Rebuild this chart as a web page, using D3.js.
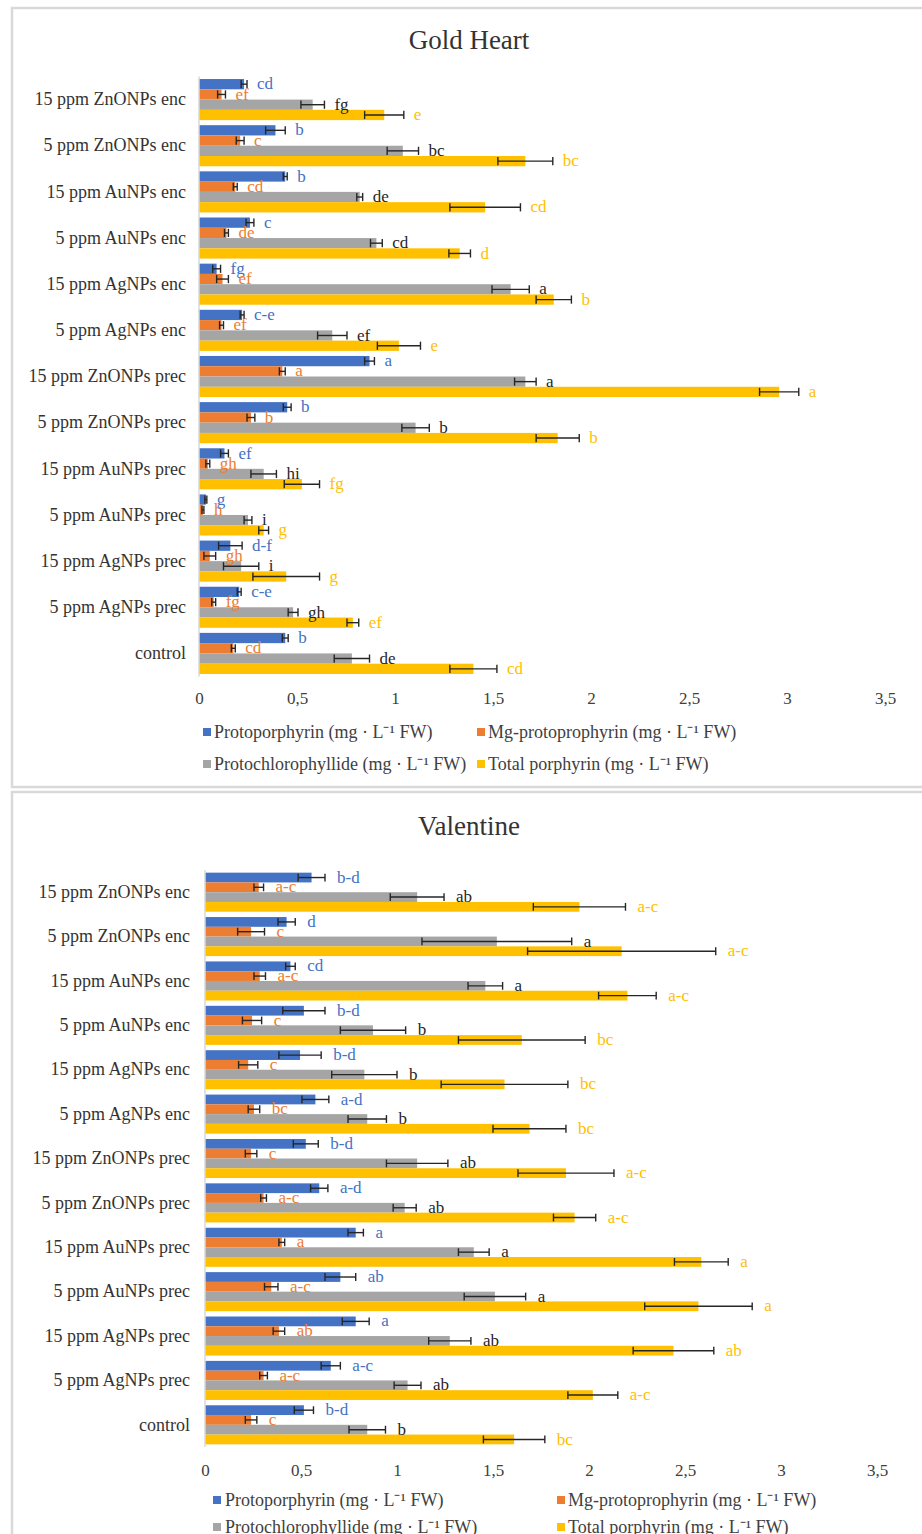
<!DOCTYPE html>
<html>
<head>
<meta charset="utf-8">
<script src="https://cdn.jsdelivr.net/npm/d3@7"></script>
<style>
  body { margin: 0; background: #fff; }
  text { font-family: "Liberation Serif", "Times New Roman", serif; }
</style>
</head>
<body>
<svg id="chart" width="922" height="1534"></svg>
<script>
// categories, top to bottom
const categories = [
  "15 ppm ZnONPs enc", "5 ppm ZnONPs enc", "15 ppm AuNPs enc", "5 ppm AuNPs enc",
  "15 ppm AgNPs enc", "5 ppm AgNPs enc", "15 ppm ZnONPs prec", "5 ppm ZnONPs prec",
  "15 ppm AuNPs prec", "5 ppm AuNPs prec", "15 ppm AgNPs prec", "5 ppm AgNPs prec", "control"
];
const seriesNames = [
  "Protoporphyrin (mg · L⁻¹ FW)",
  "Mg-protoprophyrin (mg · L⁻¹ FW)",
  "Protochlorophyllide (mg · L⁻¹ FW)",
  "Total porphyrin (mg · L⁻¹ FW)"
];
const tickValues = [0, 0.5, 1, 1.5, 2, 2.5, 3, 3.5];
const tickLabels = ["0", "0,5", "1", "1,5", "2", "2,5", "3", "3,5"];

// Gold Heart
const ghProto    = [0.23, 0.39, 0.44, 0.26, 0.09, 0.22, 0.87, 0.45, 0.13, 0.035, 0.16, 0.205, 0.44];
const ghProtoErr = [0.015, 0.05, 0.01, 0.02, 0.02, 0.01, 0.025, 0.02, 0.02, 0.005, 0.06, 0.01, 0.015];
const ghProtoLet = ["cd", "b", "b", "c", "fg", "c-e", "a", "b", "ef", "g", "d-f", "c-e", "b"];
const ghMg       = [0.115, 0.21, 0.185, 0.14, 0.12, 0.115, 0.425, 0.265, 0.045, 0.02, 0.055, 0.075, 0.175];
const ghMgErr    = [0.02, 0.02, 0.01, 0.01, 0.03, 0.01, 0.015, 0.02, 0.01, 0.005, 0.03, 0.01, 0.01];
const ghMgLet    = ["ef", "c", "cd", "de", "ef", "ef", "a", "b", "gh", "h", "gh", "fg", "cd"];
const ghPchl     = [0.58, 1.04, 0.82, 0.905, 1.59, 0.68, 1.665, 1.105, 0.33, 0.25, 0.215, 0.48, 0.78];
const ghPchlErr  = [0.06, 0.08, 0.015, 0.03, 0.095, 0.075, 0.055, 0.07, 0.065, 0.02, 0.09, 0.025, 0.09];
const ghPchlLet  = ["fg", "bc", "de", "cd", "a", "ef", "a", "b", "hi", "i", "i", "gh", "de"];
const ghTotal    = [0.945, 1.665, 1.46, 1.33, 1.81, 1.02, 2.96, 1.83, 0.525, 0.33, 0.445, 0.785, 1.40];
const ghTotalErr = [0.10, 0.14, 0.18, 0.055, 0.09, 0.11, 0.10, 0.11, 0.09, 0.025, 0.17, 0.03, 0.12];
const ghTotalLet = ["e", "bc", "cd", "d", "b", "e", "a", "b", "fg", "g", "g", "ef", "cd"];

// Valentine
const vaProto    = [0.555, 0.425, 0.445, 0.515, 0.495, 0.575, 0.525, 0.595, 0.785, 0.705, 0.785, 0.655, 0.515];
const vaProtoErr = [0.07, 0.045, 0.025, 0.11, 0.11, 0.07, 0.065, 0.045, 0.04, 0.08, 0.07, 0.05, 0.05];
const vaProtoLet = ["b-d", "d", "cd", "b-d", "b-d", "a-d", "b-d", "a-d", "a", "ab", "a", "a-c", "b-d"];
const vaMg       = [0.28, 0.24, 0.285, 0.245, 0.225, 0.255, 0.24, 0.305, 0.40, 0.345, 0.385, 0.305, 0.24];
const vaMgErr    = [0.025, 0.07, 0.03, 0.05, 0.05, 0.03, 0.03, 0.015, 0.015, 0.035, 0.03, 0.02, 0.03];
const vaMgLet    = ["a-c", "c", "a-c", "c", "c", "bc", "c", "a-c", "a", "a-c", "ab", "a-c", "c"];
const vaPchl     = [1.105, 1.52, 1.46, 0.875, 0.83, 0.845, 1.105, 1.04, 1.40, 1.51, 1.275, 1.055, 0.845];
const vaPchlErr  = [0.14, 0.39, 0.09, 0.17, 0.17, 0.10, 0.16, 0.06, 0.08, 0.16, 0.11, 0.07, 0.095];
const vaPchlLet  = ["ab", "a", "a", "b", "b", "b", "ab", "ab", "a", "a", "ab", "ab", "b"];
const vaTotal    = [1.95, 2.17, 2.20, 1.65, 1.56, 1.69, 1.88, 1.925, 2.585, 2.57, 2.44, 2.02, 1.61];
const vaTotalErr = [0.24, 0.49, 0.15, 0.33, 0.33, 0.19, 0.25, 0.11, 0.14, 0.28, 0.21, 0.13, 0.16];
const vaTotalLet = ["a-c", "a-c", "a-c", "bc", "bc", "bc", "a-c", "a-c", "a", "a", "ab", "a-c", "bc"];

const barColors   = ["#4472C4", "#ED7D31", "#A5A5A5", "#FFC000"];
const letterColors = ["#4472C4", "#ED7D31", "#262626", "#FFC000"];

const svg = d3.select("#chart");

function drawPanel(p) {
  const g = svg.append("g");

  // frame
  g.append("rect")
    .attr("x", p.frame[0]).attr("y", p.frame[1])
    .attr("width", p.frame[2]).attr("height", p.frame[3])
    .attr("fill", "#fff").attr("stroke", "#d9d9d9").attr("stroke-width", 2.5);

  g.append("text")
    .attr("x", 469).attr("y", p.titleY).attr("dy", "0.35em")
    .attr("text-anchor", "middle").attr("font-size", 27).attr("fill", "#333")
    .text(p.title);

  const x = d3.scaleLinear().domain([0, 3.5]).range([p.x0, p.x1]);
  const y = d3.scaleBand().domain(categories).range([p.top, p.bottom])
    .paddingInner(p.pad).paddingOuter(p.pad / 2);
  const ys = d3.scaleBand().domain(d3.range(4)).range([0, y.bandwidth()]);

  // category axis
  const yAxis = g.append("g").attr("transform", `translate(${p.x0},0)`)
    .call(d3.axisLeft(y).tickSize(0).tickPadding(p.x0 - p.catRight));
  yAxis.select(".domain").remove();
  yAxis.selectAll("text").attr("font-size", 18).attr("fill", "#333")
    .attr("font-family", "Liberation Serif, serif");

  // value axis labels
  const xAxis = g.append("g").attr("transform", `translate(0,${p.tickY})`)
    .call(d3.axisBottom(x).tickValues(tickValues).tickSize(0)
      .tickFormat((d, i) => tickLabels[i]));
  xAxis.select(".domain").remove();
  xAxis.selectAll("text").attr("y", 0).attr("dy", "0.35em")
    .attr("font-size", 17).attr("fill", "#404040")
    .attr("font-family", "Liberation Serif, serif");

  const rows = [];
  categories.forEach((c, i) => {
    p.series.forEach((s, k) => {
      rows.push({cat: c, k, v: s.vals[i], e: s.errs[i], t: s.lets[i]});
    });
  });

  const bh = ys.bandwidth();
  g.append("g").selectAll("rect").data(rows).join("rect")
    .attr("x", x(0))
    .attr("y", d => y(d.cat) + ys(d.k))
    .attr("width", d => x(d.v) - x(0))
    .attr("height", bh)
    .attr("fill", d => barColors[d.k]);

  // vertical axis line
  g.append("line")
    .attr("x1", x(0)).attr("x2", x(0)).attr("y1", p.top).attr("y2", p.bottom)
    .attr("stroke", "#d9d9d9").attr("stroke-width", 1.5);

  // error bars
  const eb = g.append("g").attr("stroke", "#262626").attr("stroke-width", 1.4);
  rows.forEach(d => {
    const cy = y(d.cat) + ys(d.k) + bh / 2;
    const xa = x(d.v - d.e), xb = x(d.v + d.e);
    eb.append("line").attr("x1", xa).attr("x2", xb).attr("y1", cy).attr("y2", cy);
    eb.append("line").attr("x1", xa).attr("x2", xa).attr("y1", cy - bh * 0.4).attr("y2", cy + bh * 0.4);
    eb.append("line").attr("x1", xb).attr("x2", xb).attr("y1", cy - bh * 0.4).attr("y2", cy + bh * 0.4);
  });

  // letters
  g.append("g").selectAll("text").data(rows).join("text")
    .attr("x", d => x(d.v + d.e) + p.letOff)
    .attr("y", d => y(d.cat) + ys(d.k) + bh / 2)
    .attr("dy", "0.3em")
    .attr("font-size", 17)
    .attr("fill", d => letterColors[d.k])
    .text(d => d.t);

  // legend
  const leg = g.append("g");
  seriesNames.forEach((name, k) => {
    const col = p.legCols[k % 2], ry = p.legRows[Math.floor(k / 2)];
    leg.append("rect").attr("x", col[0]).attr("y", ry - 4).attr("width", 8).attr("height", 8)
      .attr("fill", barColors[k]);
    leg.append("text").attr("x", col[1]).attr("y", ry).attr("dy", "0.35em")
      .attr("font-size", 18).attr("fill", "#404040").text(name);
  });
}

drawPanel({
  title: "Gold Heart",
  frame: [12, 8, 930, 779],
  titleY: 40,
  x0: 199, x1: 885, top: 76.5, bottom: 676.5, pad: 0.11,
  catRight: 186, tickY: 698, letOff: 10,
  legRows: [732, 764], legCols: [[203, 214], [477, 488]],
  series: [
    {vals: ghProto, errs: ghProtoErr, lets: ghProtoLet},
    {vals: ghMg, errs: ghMgErr, lets: ghMgLet},
    {vals: ghPchl, errs: ghPchlErr, lets: ghPchlLet},
    {vals: ghTotal, errs: ghTotalErr, lets: ghTotalLet}
  ]
});

drawPanel({
  title: "Valentine",
  frame: [12, 792, 930, 780],
  titleY: 826,
  x0: 205, x1: 877, top: 870, bottom: 1447, pad: 0.12,
  catRight: 190, tickY: 1470, letOff: 12,
  legRows: [1500, 1527], legCols: [[213, 225], [557, 568]],
  series: [
    {vals: vaProto, errs: vaProtoErr, lets: vaProtoLet},
    {vals: vaMg, errs: vaMgErr, lets: vaMgLet},
    {vals: vaPchl, errs: vaPchlErr, lets: vaPchlLet},
    {vals: vaTotal, errs: vaTotalErr, lets: vaTotalLet}
  ]
});
</script>
</body>
</html>
